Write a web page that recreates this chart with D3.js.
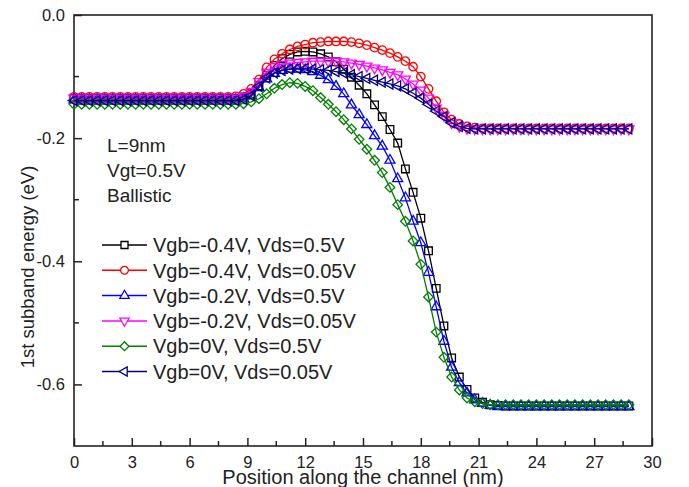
<!DOCTYPE html>
<html>
<head>
<meta charset="utf-8">
<script src="https://cdn.jsdelivr.net/npm/d3@7"></script>
<style>
  body { margin: 0; background: #fff; }
  text { font-family: Arial, 'Liberation Sans', sans-serif; fill: #222; }
</style>
</head>
<body>
<div id="chart"></div>
<script>
// Position along the channel (nm), one entry per sample
const positions = [
  0.0, 0.4, 0.8, 1.2, 1.6, 2.0, 2.4, 2.8, 3.2, 3.6,
  4.0, 4.4, 4.8, 5.2, 5.6, 6.0, 6.4, 6.8, 7.2, 7.6,
  8.0, 8.4, 8.8, 9.2, 9.6, 10.0, 10.4, 10.8, 11.2, 11.6,
  12.0, 12.4, 12.8, 13.2, 13.6, 14.0, 14.4, 14.8, 15.2, 15.6,
  16.0, 16.4, 16.8, 17.2, 17.6, 18.0, 18.4, 18.8, 19.2, 19.6,
  20.0, 20.4, 20.8, 21.2, 21.6, 22.0, 22.4, 22.8, 23.2, 23.6,
  24.0, 24.4, 24.8, 25.2, 25.6, 26.0, 26.4, 26.8, 27.2, 27.6,
  28.0, 28.4, 28.8,
];

// 1st subband energy (eV) for each bias point
const vgbM04Vds05 = [
  -0.135, -0.135, -0.135, -0.135, -0.135, -0.135, -0.135, -0.135, -0.135, -0.135,
  -0.135, -0.135, -0.135, -0.135, -0.135, -0.135, -0.135, -0.135, -0.135, -0.135,
  -0.135, -0.135, -0.133, -0.128, -0.115, -0.098, -0.082, -0.071, -0.064, -0.060,
  -0.059, -0.060, -0.063, -0.068, -0.076, -0.088, -0.101, -0.114, -0.128, -0.146,
  -0.165, -0.186, -0.208, -0.250, -0.288, -0.330, -0.383, -0.444, -0.505, -0.557,
  -0.588, -0.608, -0.622, -0.629, -0.633, -0.634, -0.635, -0.635, -0.635, -0.635,
  -0.635, -0.635, -0.635, -0.635, -0.635, -0.635, -0.635, -0.635, -0.635, -0.635,
  -0.635, -0.635, -0.635,
];
const vgbM04Vds005 = [
  -0.133, -0.133, -0.133, -0.133, -0.133, -0.133, -0.133, -0.133, -0.133, -0.133,
  -0.133, -0.133, -0.133, -0.133, -0.133, -0.133, -0.133, -0.133, -0.133, -0.133,
  -0.133, -0.132, -0.128, -0.120, -0.105, -0.085, -0.072, -0.063, -0.056, -0.051,
  -0.048, -0.045, -0.044, -0.043, -0.043, -0.043, -0.044, -0.046, -0.049, -0.053,
  -0.057, -0.062, -0.068, -0.075, -0.084, -0.100, -0.120, -0.140, -0.158, -0.170,
  -0.177, -0.181, -0.183, -0.184, -0.184, -0.184, -0.184, -0.184, -0.184, -0.184,
  -0.184, -0.184, -0.184, -0.184, -0.184, -0.184, -0.184, -0.184, -0.184, -0.184,
  -0.184, -0.184, -0.184,
];
const vgbM02Vds05 = [
  -0.138, -0.138, -0.138, -0.138, -0.138, -0.138, -0.138, -0.138, -0.138, -0.138,
  -0.138, -0.138, -0.138, -0.138, -0.138, -0.138, -0.138, -0.138, -0.138, -0.138,
  -0.138, -0.138, -0.136, -0.131, -0.118, -0.104, -0.095, -0.090, -0.088, -0.088,
  -0.089, -0.092, -0.098, -0.105, -0.116, -0.128, -0.146, -0.162, -0.178, -0.196,
  -0.213, -0.236, -0.266, -0.297, -0.335, -0.370, -0.418, -0.474, -0.530, -0.572,
  -0.597, -0.614, -0.625, -0.631, -0.634, -0.636, -0.636, -0.636, -0.636, -0.636,
  -0.636, -0.636, -0.636, -0.636, -0.636, -0.636, -0.636, -0.636, -0.636, -0.636,
  -0.636, -0.636, -0.636,
];
const vgbM02Vds005 = [
  -0.135, -0.135, -0.135, -0.135, -0.135, -0.135, -0.135, -0.135, -0.135, -0.135,
  -0.135, -0.135, -0.135, -0.135, -0.135, -0.135, -0.135, -0.135, -0.135, -0.135,
  -0.135, -0.135, -0.132, -0.124, -0.108, -0.093, -0.084, -0.080, -0.078, -0.077,
  -0.076, -0.075, -0.075, -0.075, -0.075, -0.076, -0.078, -0.080, -0.083, -0.086,
  -0.089, -0.093, -0.097, -0.104, -0.112, -0.122, -0.135, -0.151, -0.163, -0.175,
  -0.181, -0.184, -0.185, -0.185, -0.185, -0.185, -0.185, -0.185, -0.185, -0.185,
  -0.185, -0.185, -0.185, -0.185, -0.185, -0.185, -0.185, -0.185, -0.185, -0.185,
  -0.185, -0.185, -0.185,
];
const vgb0Vds05 = [
  -0.145, -0.145, -0.145, -0.145, -0.145, -0.145, -0.145, -0.145, -0.145, -0.145,
  -0.145, -0.145, -0.145, -0.145, -0.145, -0.145, -0.145, -0.145, -0.145, -0.145,
  -0.145, -0.145, -0.144, -0.141, -0.136, -0.128, -0.119, -0.113, -0.110, -0.111,
  -0.116, -0.123, -0.134, -0.145, -0.157, -0.170, -0.185, -0.202, -0.218, -0.236,
  -0.256, -0.280, -0.308, -0.335, -0.367, -0.405, -0.458, -0.515, -0.556, -0.588,
  -0.609, -0.622, -0.628, -0.631, -0.633, -0.633, -0.633, -0.633, -0.633, -0.633,
  -0.633, -0.633, -0.633, -0.633, -0.633, -0.633, -0.633, -0.633, -0.633, -0.633,
  -0.633, -0.633, -0.633,
];
const vgb0Vds005 = [
  -0.139, -0.139, -0.139, -0.139, -0.139, -0.139, -0.139, -0.139, -0.139, -0.139,
  -0.139, -0.139, -0.139, -0.139, -0.139, -0.139, -0.139, -0.139, -0.139, -0.139,
  -0.139, -0.139, -0.137, -0.131, -0.116, -0.102, -0.094, -0.090, -0.088, -0.087,
  -0.087, -0.088, -0.089, -0.090, -0.092, -0.094, -0.097, -0.100, -0.103, -0.106,
  -0.109, -0.112, -0.115, -0.120, -0.127, -0.135, -0.145, -0.156, -0.165, -0.175,
  -0.181, -0.184, -0.185, -0.185, -0.185, -0.185, -0.185, -0.185, -0.185, -0.185,
  -0.185, -0.185, -0.185, -0.185, -0.185, -0.185, -0.185, -0.185, -0.185, -0.185,
  -0.185, -0.185, -0.185,
];

const seriesNames = [
  'Vgb=-0.4V, Vds=0.5V',
  'Vgb=-0.4V, Vds=0.05V',
  'Vgb=-0.2V, Vds=0.5V',
  'Vgb=-0.2V, Vds=0.05V',
  'Vgb=0V, Vds=0.5V',
  'Vgb=0V, Vds=0.05V',
];
const seriesValues = [vgbM04Vds05, vgbM04Vds005, vgbM02Vds05, vgbM02Vds005, vgb0Vds05, vgb0Vds005];
const seriesColours = ['#000000', '#ff0000', '#0000ff', '#ff00ff', '#008000', '#000080'];

const xTicks = [0, 3, 6, 9, 12, 15, 18, 21, 24, 27, 30];
const yTicks = [0, -0.2, -0.4, -0.6];
const yTickLabels = ['0.0', '-0.2', '-0.4', '-0.6'];
const notes = ['L=9nm', 'Vgt=0.5V', 'Ballistic'];

// marker for each series: symbol type, area, rotation
const markers = [
  { type: d3.symbolSquare, size: 58, rotate: 0 },
  { type: d3.symbolCircle, size: 56, rotate: 0 },
  { type: d3.symbolTriangle, size: 44, rotate: 0 },
  { type: d3.symbolTriangle, size: 44, rotate: 180 },
  { type: d3.symbolSquare, size: 46, rotate: 45 },
  { type: d3.symbolTriangle, size: 44, rotate: -90 },
];

class EnergyChart {
  constructor(opts) {
    this.element = opts.element;
    this.width = 689;
    this.height = 487;
    this.margin = { top: 15, right: 37, bottom: 41, left: 74 };
  }

  makeSVG() {
    this.svg = d3.select(this.element).append('svg')
      .attr('width', this.width)
      .attr('height', this.height);

    this.x = d3.scaleLinear().domain([0, 30])
      .range([this.margin.left, this.width - this.margin.right]);
    this.y = d3.scaleLinear().domain([-0.7, 0])
      .range([this.height - this.margin.bottom, this.margin.top]);

    this.addAxes();
    this.addSeries();
    this.addLegend();
    this.addText();
  }

  addAxes() {
    const x0 = this.x.range()[0];
    const x1 = this.x.range()[1];
    const y0 = this.y.range()[0];
    const y1 = this.y.range()[1];

    const bottom = this.svg.append('g')
      .attr('transform', `translate(0,${y0})`)
      .call(d3.axisBottom(this.x).tickValues(xTicks).tickSize(-8).tickPadding(10)
        .tickFormat(d3.format('d')));
    const left = this.svg.append('g')
      .attr('transform', `translate(${x0},0)`)
      .call(d3.axisLeft(this.y).tickValues(yTicks).tickSize(-8).tickPadding(9)
        .tickFormat((d, i) => yTickLabels[i]));

    [bottom, left].forEach((g) => {
      g.select('.domain').remove();
      g.selectAll('.tick line').attr('stroke', '#222').attr('stroke-width', 1.5);
      g.selectAll('.tick text').attr('font-size', 16.5).attr('fill', '#222')
        .style('font-family', 'Arial, "Liberation Sans", sans-serif');
    });

    // minor ticks
    const minorX = d3.range(1.5, 30, 3);
    this.svg.append('g').selectAll('line').data(minorX).enter().append('line')
      .attr('x1', (d) => this.x(d)).attr('x2', (d) => this.x(d))
      .attr('y1', y0).attr('y2', y0 - 5)
      .attr('stroke', '#222').attr('stroke-width', 1.5);
    const minorY = [-0.1, -0.3, -0.5];
    this.svg.append('g').selectAll('line').data(minorY).enter().append('line')
      .attr('y1', (d) => this.y(d)).attr('y2', (d) => this.y(d))
      .attr('x1', x0).attr('x2', x0 + 5)
      .attr('stroke', '#222').attr('stroke-width', 1.5);

    this.svg.append('rect')
      .attr('x', x0).attr('y', y1)
      .attr('width', x1 - x0).attr('height', y0 - y1)
      .attr('fill', 'none').attr('stroke', '#222').attr('stroke-width', 1.6);
  }

  addSeries() {
    const line = d3.line()
      .x((d) => this.x(d[0]))
      .y((d) => this.y(d[1]));

    seriesValues.forEach((vals, i) => {
      const pts = positions.map((p, j) => [p, vals[j]]);
      const g = this.svg.append('g');
      g.append('path')
        .datum(pts)
        .attr('d', line)
        .attr('fill', 'none')
        .attr('stroke', seriesColours[i])
        .attr('stroke-width', 1.3);
      const m = markers[i];
      g.selectAll('path.mk').data(pts).enter().append('path')
        .attr('class', 'mk')
        .attr('d', d3.symbol().type(m.type).size(m.size))
        .attr('transform', (d) => `translate(${this.x(d[0])},${this.y(d[1])}) rotate(${m.rotate})`)
        .attr('fill', 'none')
        .attr('stroke', seriesColours[i])
        .attr('stroke-width', 1.3);
    });
  }

  addLegend() {
    const rows = this.svg.append('g').selectAll('g')
      .data(seriesNames)
      .enter()
      .append('g')
      .attr('transform', (d, i) => `translate(102,${245 + i * 25.3})`);

    rows.append('line')
      .attr('x1', 0).attr('x2', 45)
      .attr('stroke', (d, i) => seriesColours[i])
      .attr('stroke-width', 1.5);
    rows.append('path')
      .attr('d', (d, i) => d3.symbol().type(markers[i].type).size(markers[i].size * 0.85)())
      .attr('transform', (d, i) => `translate(22.5,0) rotate(${markers[i].rotate})`)
      .attr('fill', '#fff')
      .attr('stroke', (d, i) => seriesColours[i])
      .attr('stroke-width', 1.3);
    rows.append('text')
      .attr('x', 51)
      .attr('dy', '0.36em')
      .attr('font-size', 20)
      .text((d) => d);
  }

  addText() {
    this.svg.append('g').selectAll('text')
      .data(notes)
      .enter()
      .append('text')
      .attr('x', 107)
      .attr('y', (d, i) => 145 + i * 25)
      .attr('dy', '0.36em')
      .attr('font-size', 19)
      .text((d) => d);

    this.svg.append('text')
      .attr('x', (this.x.range()[0] + this.x.range()[1]) / 2)
      .attr('y', 484)
      .attr('text-anchor', 'middle')
      .attr('font-size', 20)
      .text('Position along the channel (nm)');

    this.svg.append('text')
      .attr('transform', 'translate(34,267) rotate(-90)')
      .attr('text-anchor', 'middle')
      .attr('font-size', 18.5)
      .text('1st subband energy (eV)');
  }
}

const chart = new EnergyChart({ element: document.getElementById('chart') });
chart.makeSVG();
</script>
</body>
</html>
